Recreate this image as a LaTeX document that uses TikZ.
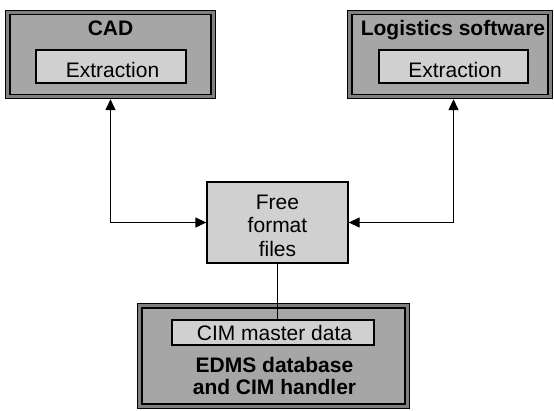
\documentclass[tikz,border=0pt]{standalone}
\usepackage{fontspec}
\setmainfont{Liberation Sans}
\usetikzlibrary{arrows.meta}
\definecolor{outerfill}{HTML}{A6A6A6}
\definecolor{gapgray}{HTML}{808080}
\definecolor{innerfill}{HTML}{D0D0D0}
\begin{document}
\begin{tikzpicture}[x=1pt,y=-1pt,
  bigbox/.style={draw=black, line width=1.3pt, double=gapgray, double distance=3pt,
    fill=outerfill, inner sep=0pt, outer sep=2.8pt, minimum height=83.8pt},
  smallbox/.style={draw=black, line width=1.3pt, fill=innerfill, inner sep=0pt},
  txt/.style={inner sep=0pt, font=\fontsize{21}{23.5}\selectfont},
  btxt/.style={inner sep=0pt, font=\fontsize{21}{22}\selectfont\bfseries},
  conn/.style={line width=1.3pt, draw=black},
  tips/.style={{Triangle[length=11pt,width=10pt]}-{Triangle[length=11pt,width=10pt]}}
]
\useasboundingbox[fill=white] (0,0) rectangle (554,410);

% outer boxes
\node[bigbox, minimum width=205.4pt] (cad) at (110.5,54.5) {};
\node[bigbox, minimum width=200.4pt] (log) at (450,54.5) {};
\node[bigbox, minimum width=267.4pt, minimum height=100.4pt] (edms) at (273.5,356) {};

% inner boxes
\node[smallbox, minimum width=150pt, minimum height=33pt] (cadx) at (111,66.5) {};
\node[smallbox, minimum width=149pt, minimum height=33pt] (logx) at (453.5,66.5) {};
\node[smallbox, minimum width=202pt, minimum height=25pt] (cim) at (273,332.5) {};
\node[smallbox, minimum width=141pt, minimum height=81pt] (free) at (277.5,222.5) {};

% texts
\node[btxt, anchor=base] (cadt) at (110.5,35.7) {CAD};
\node[btxt, anchor=base] (logt) at (453,35.7) {Logistics software};
\node[txt, anchor=base] (cadxt) at (112.5,77.7) {Extraction};
\node[txt, anchor=base] (logxt) at (455,77.7) {Extraction};
\node[txt, anchor=base] (cimt) at (274.5,340.7) {CIM master data};
\node[txt, anchor=north, align=center] (freet) at (277.5,194.5) {Free\\format\\files};
\node[btxt, anchor=north, align=center] (edmst) at (274.5,357.5) {EDMS database\\and CIM handler};

% connectors
\draw[conn, tips] (cad.south) |- (free.west);
\draw[conn, tips] (log.south -| logx.center) |- (free.east);
\draw[conn] (free.south) -- (free.south |- cim.north);
\end{tikzpicture}
\end{document}
